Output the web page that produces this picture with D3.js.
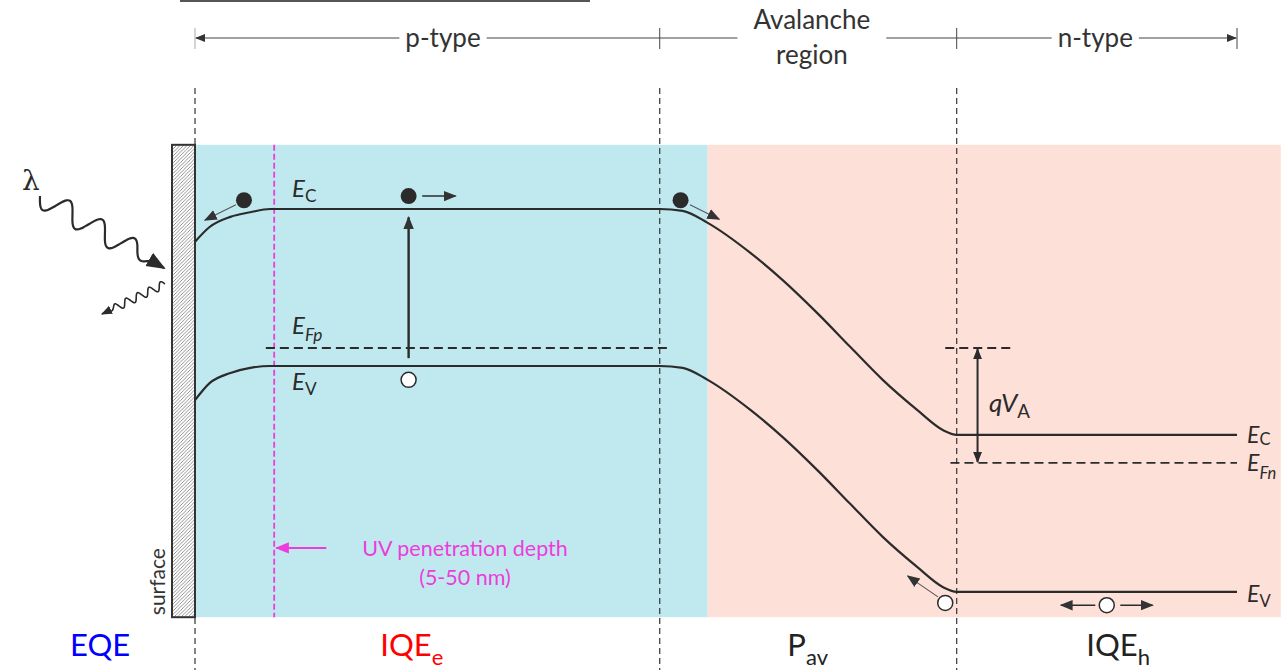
<!DOCTYPE html>
<html>
<head>
<meta charset="utf-8">
<script src="https://cdn.jsdelivr.net/npm/d3@7"></script>
<style>
html, body { margin: 0; padding: 0; background: #fff; }
svg { display: block; font-family: Lato, 'Open Sans', sans-serif; }
</style>
</head>
<body>
<svg id="chart" width="1281" height="670"></svg>
<script>
// position along the device (0 = surface, 100 = end of n side), energies in eV (Ev of p side = 0)
const bandX   = [0, 1.4, 3.4, 5.3, 7.2, 44.6, 46.8, 49.2, 53.3, 56.4, 59.7, 62.9, 66.0, 69.3, 71.8, 73.1, 100];
const ecLevel = [2.69, 3.01, 3.23, 3.33, 3.40, 3.40, 3.36, 3.10, 2.45, 1.86, 1.15, 0.41, -0.30, -0.95, -1.39, -1.49, -1.49];
const evLevel = [-0.74, -0.37, -0.15, -0.04, 0, 0, -0.04, -0.30, -0.95, -1.54, -2.25, -2.99, -3.70, -4.35, -4.79, -4.89, -4.89];

const regionEdges   = [0, 44.6, 73.1, 100];        // surface | p-type | avalanche | n-type
const regionNames   = ['p-type', 'Avalanche region', 'n-type'];
const regionLabelAt = [23.8, 59.2, 86.4];
const shadeEdges    = [0, 49.2, 104.2];             // blue part, pink part
const uvDepth       = 7.6;
const fermiP        = { level: 0.39, from: 6.8, to: 45.6 };
const fermiN        = { level: -2.10, from: 72.5, to: 100 };
const qvaTop        = { level: 0.39, from: 72.0, to: 78.7 };
const qvaAt         = 75.1;

const electrons = [[4.7, 3.59], [20.5, 3.68], [46.6, 3.59]];
const holes     = [[20.5, -0.30], [72.0, -5.13], [87.5, -5.18]];
const carrierMoves = [
    [3.93, 3.49, 0.96, 3.16],
    [21.8, 3.68, 25.0, 3.68],
    [47.5, 3.49, 50.3, 3.18],
    [71.3, -5.00, 68.4, -4.55],
    [86.4, -5.18, 83.1, -5.18],
    [88.8, -5.18, 91.9, -5.18]
];
const excitation = [20.5, 0.17, 3.22];

const efficiencyNames = ['EQE', 'IQE', 'P', 'IQE'];
const efficiencySubs  = ['', 'e', 'av', 'h'];
const efficiencyAt    = [-9.1, 20.8, 58.8, 88.6];

const svg = d3.select('#chart');
const x = d3.scaleLinear().domain([0, 100]).range([195, 1237]);
const y = d3.scaleLinear().domain([3.4, 0]).range([209, 366]);
const ink = '#2b2b2b';
const magenta = '#ee3cdc';
const eTop = 4.79, eBottom = -5.44;

const defs = svg.append('defs');
function marker(id, color, size) {
    defs.append('marker')
        .attr('id', id)
        .attr('viewBox', '0 0 10 10')
        .attr('refX', 9).attr('refY', 5)
        .attr('markerUnits', 'userSpaceOnUse')
        .attr('markerWidth', size).attr('markerHeight', size)
        .attr('orient', 'auto-start-reverse')
        .append('path')
        .attr('d', 'M0,1 L10,5 L0,9 z')
        .attr('fill', color);
}
marker('head', ink, 11);
marker('headSmall', '#333', 13);
marker('headMag', magenta, 14);
marker('headDim', '#333', 10);
marker('headWave', ink, 19);

const hatch = defs.append('pattern')
    .attr('id', 'hatch')
    .attr('patternUnits', 'userSpaceOnUse')
    .attr('width', 3.5).attr('height', 3.5);
hatch.append('rect').attr('width', 3.5).attr('height', 3.5).attr('fill', '#fff');
hatch.append('path')
    .attr('d', 'M-1,1 L1,-1 M0,3.5 L3.5,0 M2.5,4.5 L4.5,2.5')
    .attr('stroke', '#777').attr('stroke-width', 0.8);

// shaded regions
svg.selectAll('rect.shade')
    .data(d3.pairs(shadeEdges))
    .enter().append('rect')
    .attr('class', 'shade')
    .attr('x', d => x(d[0]))
    .attr('y', y(eTop))
    .attr('width', d => x(d[1]) - x(d[0]))
    .attr('height', y(eBottom) - y(eTop))
    .attr('fill', (d, i) => i === 0 ? '#c0e9ef' : '#fde1d8');

// surface slab
svg.append('rect')
    .attr('x', x(0) - 23).attr('y', y(eTop))
    .attr('width', 23).attr('height', y(eBottom) - y(eTop))
    .attr('fill', 'url(#hatch)')
    .attr('stroke', '#333').attr('stroke-width', 2);

svg.append('text')
    .attr('transform', `translate(${x(0) - 30},${y(eBottom) - 2}) rotate(-90)`)
    .attr('font-size', 21).attr('fill', '#333')
    .text('surface');

// region boundaries
svg.selectAll('line.edge')
    .data(regionEdges.slice(0, 3))
    .enter().append('line')
    .attr('class', 'edge')
    .attr('x1', d => x(d)).attr('x2', d => x(d))
    .attr('y1', 88).attr('y2', 670)
    .attr('stroke', '#333').attr('stroke-width', 1.2)
    .attr('stroke-dasharray', '6,4');

// UV penetration depth
svg.append('line')
    .attr('x1', x(uvDepth)).attr('x2', x(uvDepth))
    .attr('y1', y(eTop)).attr('y2', y(eBottom))
    .attr('stroke', magenta).attr('stroke-width', 1.8)
    .attr('stroke-dasharray', '6,3');
svg.append('line')
    .attr('x1', x(12.6)).attr('x2', x(7.8))
    .attr('y1', y(-3.94)).attr('y2', y(-3.94))
    .attr('stroke', magenta).attr('stroke-width', 2)
    .attr('marker-end', 'url(#headMag)');
svg.append('text')
    .attr('x', 465).attr('y', 556)
    .attr('text-anchor', 'middle').attr('font-size', 21.5).attr('fill', magenta)
    .text('UV penetration depth');
svg.append('text')
    .attr('x', 465).attr('y', 585)
    .attr('text-anchor', 'middle').attr('font-size', 21.5).attr('fill', magenta)
    .text('(5-50 nm)');

// bands
const band = d3.line().x(d => x(d[0])).y(d => y(d[1])).curve(d3.curveMonotoneX);
[ecLevel, evLevel].forEach(levels => {
    svg.append('path')
        .datum(d3.zip(bandX, levels))
        .attr('d', band)
        .attr('fill', 'none')
        .attr('stroke', ink)
        .attr('stroke-width', 2.2);
});

// quasi Fermi levels
[fermiP, fermiN, qvaTop].forEach(f => {
    svg.append('line')
        .attr('x1', x(f.from)).attr('x2', x(f.to))
        .attr('y1', y(f.level)).attr('y2', y(f.level))
        .attr('stroke', ink).attr('stroke-width', 1.8)
        .attr('stroke-dasharray', '9,5');
});

// qV_A double arrow
svg.append('line')
    .attr('x1', x(qvaAt)).attr('x2', x(qvaAt))
    .attr('y1', y(qvaTop.level) + 1).attr('y2', y(fermiN.level) - 1)
    .attr('stroke', ink).attr('stroke-width', 2)
    .attr('marker-start', 'url(#head)').attr('marker-end', 'url(#head)');

// excitation arrow
svg.append('line')
    .attr('x1', x(excitation[0])).attr('x2', x(excitation[0]))
    .attr('y1', y(excitation[1])).attr('y2', y(excitation[2]))
    .attr('stroke', ink).attr('stroke-width', 2.4)
    .attr('marker-end', 'url(#headSmall)');

// carrier motion arrows
svg.selectAll('line.move')
    .data(carrierMoves)
    .enter().append('line')
    .attr('class', 'move')
    .attr('x1', d => x(d[0])).attr('y1', d => y(d[1]))
    .attr('x2', d => x(d[2])).attr('y2', d => y(d[3]))
    .attr('stroke', (d, i) => i === 1 || i > 3 ? ink : '#555')
    .attr('stroke-width', (d, i) => i === 1 || i > 3 ? 1.5 : 1.1)
    .attr('marker-end', 'url(#headSmall)');

svg.selectAll('circle.electron')
    .data(electrons)
    .enter().append('circle')
    .attr('class', 'electron')
    .attr('cx', d => x(d[0])).attr('cy', d => y(d[1]))
    .attr('r', 8).attr('fill', ink);

svg.selectAll('circle.hole')
    .data(holes)
    .enter().append('circle')
    .attr('class', 'hole')
    .attr('cx', d => x(d[0])).attr('cy', d => y(d[1]))
    .attr('r', 7.5).attr('fill', '#fff')
    .attr('stroke', ink).attr('stroke-width', 1.5);

// energy labels
function energyLabel(px, py, main, sub, subItalic, size, drop) {
    const t = svg.append('text')
        .attr('x', px).attr('y', py)
        .attr('font-size', size).attr('fill', ink);
    main.split('').forEach(ch => t.append('tspan').attr('font-style', 'italic').text(ch));
    t.append('tspan')
        .attr('dy', drop)
        .attr('font-size', size * 0.72)
        .attr('font-style', subItalic ? 'italic' : 'normal')
        .text(sub);
    return t;
}
energyLabel(292, 197, 'E', 'C', false, 24, 5);
energyLabel(292, 334, 'E', 'Fp', true, 24, 7);
energyLabel(292, 390, 'E', 'V', false, 24, 5);
energyLabel(1247, 443, 'E', 'C', false, 23, 2);
energyLabel(1247, 471, 'E', 'Fn', true, 23, 8);
energyLabel(1247, 602, 'E', 'V', false, 23, 5);
energyLabel(989, 412, 'qV', 'A', false, 26, 6);

// photon arrows: a sine wave along a straight path, ending in a short straight tail
function wave(x0, y0, x1, y1, periods, amp, tail) {
    const dx = x1 - x0, dy = y1 - y0, len = Math.hypot(dx, dy);
    const ux = dx / len, uy = dy / len;
    const waveLen = len - tail;
    const pts = d3.range(0, 1.0001, 1 / (periods * 24)).map(t => {
        const off = amp * Math.sin(t * periods * 2 * Math.PI) * Math.min(1, (1 - t) * 6);
        return [x0 + ux * waveLen * t - uy * off, y0 + uy * waveLen * t + ux * off];
    });
    pts.push([x1, y1]);
    return d3.line().curve(d3.curveBasis)(pts);
}
svg.append('path')
    .attr('d', wave(40, 196, 164, 268, 3.5, 11, 12))
    .attr('fill', 'none').attr('stroke', ink).attr('stroke-width', 2.2)
    .attr('marker-end', 'url(#headWave)');
svg.append('path')
    .attr('d', wave(165, 284, 102, 314, 5, 4, 6))
    .attr('fill', 'none').attr('stroke', ink).attr('stroke-width', 1.6)
    .attr('marker-end', 'url(#head)');
svg.append('text')
    .attr('x', 22).attr('y', 190)
    .attr('font-size', 28).attr('fill', ink)
    .attr('font-family', 'DejaVu Serif, serif')
    .text('λ');

// top line (cut)
svg.append('line')
    .attr('x1', 180).attr('x2', 590).attr('y1', 1).attr('y2', 1)
    .attr('stroke', '#555').attr('stroke-width', 2);

// dimension line with region names
const dimY = 38;
svg.append('line')
    .attr('x1', x(0) + 1).attr('x2', x(100) - 1)
    .attr('y1', dimY).attr('y2', dimY)
    .attr('stroke', '#444').attr('stroke-width', 1.2)
    .attr('marker-start', 'url(#headDim)').attr('marker-end', 'url(#headDim)');
svg.selectAll('line.tick')
    .data(regionEdges)
    .enter().append('line')
    .attr('class', 'tick')
    .attr('x1', d => x(d)).attr('x2', d => x(d))
    .attr('y1', dimY - 10).attr('y2', dimY + 11)
    .attr('stroke', (d, i) => i === 0 ? '#aaa' : '#444').attr('stroke-width', 1);

regionNames.forEach((name, i) => {
    const g = svg.append('g');
    const lines = name === 'Avalanche region' ? ['Avalanche', 'region'] : [name];
    const bg = g.append('rect').attr('fill', '#fff');
    const t = g.append('text')
        .attr('text-anchor', 'middle')
        .attr('font-size', 26).attr('fill', '#333');
    lines.forEach((l, j) => {
        t.append('tspan')
            .attr('x', x(regionLabelAt[i]))
            .attr('y', lines.length > 1 ? 29 + j * 35 : dimY + 9)
            .text(l);
    });
    const b = t.node().getBBox();
    const pad = lines.length > 1 ? 16 : 6;
    bg.attr('x', b.x - pad).attr('width', b.width + 2 * pad)
        .attr('y', dimY - 8).attr('height', 16);
});

// efficiency labels
efficiencyNames.forEach((name, i) => {
    const t = svg.append('text')
        .attr('x', x(efficiencyAt[i])).attr('y', 656)
        .attr('text-anchor', 'middle')
        .attr('font-size', 31)
        .attr('fill', ['#0000ff', '#ff0000', '#222', '#222'][i]);
    t.append('tspan').text(name);
    if (efficiencySubs[i]) {
        t.append('tspan').attr('dy', 9).attr('font-size', 22).text(efficiencySubs[i]);
    }
});
</script>
</body>
</html>
